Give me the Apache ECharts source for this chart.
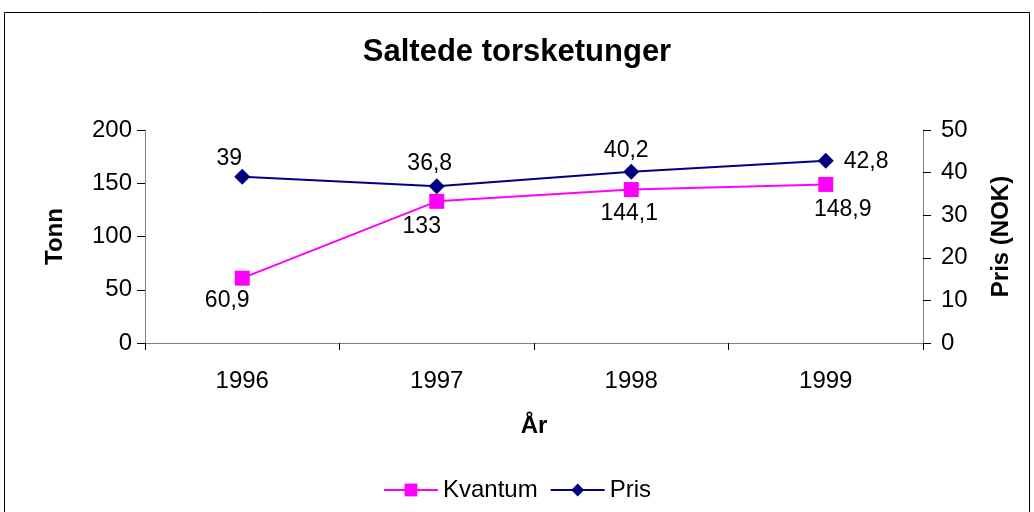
<!DOCTYPE html>
<html>
<head>
<meta charset="utf-8">
<script src="https://cdn.jsdelivr.net/npm/echarts@6/dist/echarts.min.js"></script>
<style>
html,body{margin:0;padding:0;background:#fff;}
#chart{width:1034px;height:512px;}
</style>
</head>
<body>
<div id="chart"></div>
<script>
// data
var years = ['1996', '1997', '1998', '1999'];
var kvantum = [60.9, 133, 144.1, 148.9];   // Tonn
var pris = [39, 36.8, 40.2, 42.8];          // NOK

var kvantumLabelPos = [
    {position: 'bottom', offset: [-15, -2]},
    {position: 'bottom', offset: [-15, 0]},
    {position: 'bottom', offset: [-2, -1]},
    {position: 'bottom', offset: [17, 0]}
];
var prisLabelPos = [
    {position: 'top', offset: [-13, 7]},
    {position: 'top', offset: [-7, 3]},
    {position: 'top', offset: [-5, 4]},
    {position: 'right', offset: [4, 1]}
];

function fmt(v) {
    return String(v).replace('.', ',');
}

var FONT = 'Liberation Sans';
var labelStyle = {color: '#000', fontSize: 23, fontFamily: FONT};

var myChart = echarts.init(document.getElementById('chart'));
var option = {
    backgroundColor: '#fff',
    animation: false,
    title: {
        text: 'Saltede torsketunger',
        left: 'center',
        top: 32,
        textStyle: {fontFamily: FONT, fontSize: 31, fontWeight: 'bold', color: '#000'}
    },
    graphic: [{
        type: 'rect',
        shape: {x: 4.5, y: 12.5, width: 1025, height: 520},
        style: {fill: null, stroke: '#000', lineWidth: 1},
        silent: true
    }],
    legend: {
        bottom: 5,
        left: 'center',
        itemWidth: 54,
        itemHeight: 16,
        itemGap: 12,
        textStyle: {fontFamily: FONT, fontSize: 24, color: '#000'},
        data: ['Kvantum', 'Pris']
    },
    grid: {left: 145, right: 111, top: 130, bottom: 169},
    xAxis: {
        type: 'category',
        data: years,
        boundaryGap: true,
        name: 'År',
        nameLocation: 'middle',
        nameGap: 71,
        nameTextStyle: {fontFamily: FONT, fontSize: 24, fontWeight: 'bold', color: '#000'},
        axisLine: {lineStyle: {color: '#808080', width: 1}},
        axisTick: {show: true, length: 7, lineStyle: {color: '#000'}},
        axisLabel: {fontFamily: FONT, fontSize: 24, color: '#000', margin: 26}
    },
    yAxis: [{
        type: 'value',
        min: 0, max: 200, interval: 50,
        name: 'Tonn',
        nameLocation: 'middle',
        nameGap: 78,
        nameRotate: 90,
        nameTextStyle: {fontFamily: FONT, fontSize: 24, fontWeight: 'bold', color: '#000'},
        axisLine: {show: true, lineStyle: {color: '#808080', width: 1}},
        axisTick: {show: true, length: 8, lineStyle: {color: '#000'}},
        axisLabel: {fontFamily: FONT, fontSize: 24, color: '#000', margin: 13},
        splitLine: {show: false}
    }, {
        type: 'value',
        min: 0, max: 50, interval: 10,
        position: 'right',
        name: 'Pris (NOK)',
        nameLocation: 'middle',
        nameGap: 66,
        nameRotate: 90,
        nameTextStyle: {fontFamily: FONT, fontSize: 24, fontWeight: 'bold', color: '#000'},
        axisLine: {show: true, lineStyle: {color: '#808080', width: 1}},
        axisTick: {show: true, length: 8, lineStyle: {color: '#000'}},
        axisLabel: {fontFamily: FONT, fontSize: 24, color: '#000', margin: 18},
        splitLine: {show: false}
    }],
    series: [{
        name: 'Kvantum',
        type: 'line',
        yAxisIndex: 0,
        symbol: 'rect',
        symbolSize: 15,
        itemStyle: {color: '#FF00FF'},
        lineStyle: {color: '#FF00FF', width: 2},
        data: kvantum.map(function (v, i) {
            return {value: v, label: Object.assign({show: true, distance: 6}, kvantumLabelPos[i])};
        }),
        label: Object.assign({formatter: function (p) { return fmt(p.value); }}, labelStyle)
    }, {
        name: 'Pris',
        type: 'line',
        yAxisIndex: 1,
        symbol: 'diamond',
        symbolSize: 16,
        itemStyle: {color: '#000080'},
        lineStyle: {color: '#000080', width: 2},
        data: pris.map(function (v, i) {
            return {value: v, label: Object.assign({show: true, distance: 6}, prisLabelPos[i])};
        }),
        label: Object.assign({formatter: function (p) { return fmt(p.value); }}, labelStyle)
    }]
};
myChart.setOption(option);
</script>
</body>
</html>
